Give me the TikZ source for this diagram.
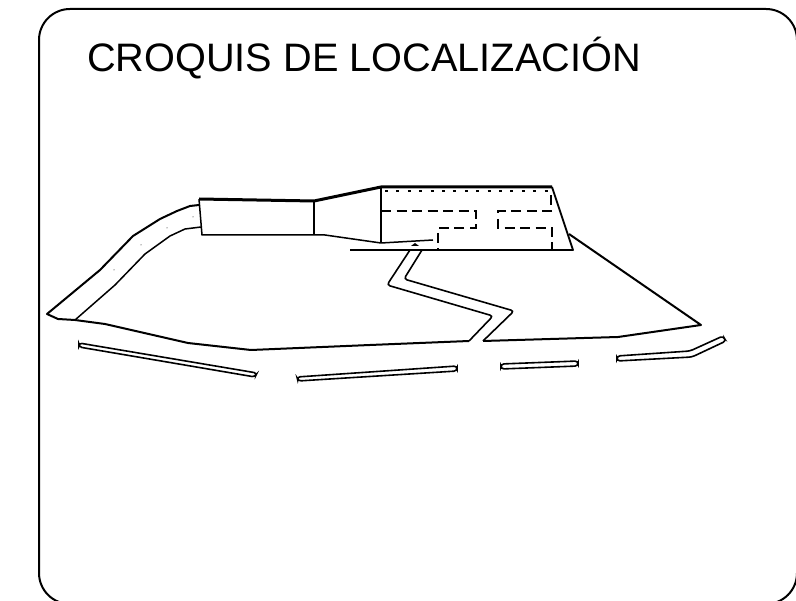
\documentclass[tikz,border=0pt]{standalone}
\usepackage{fontspec}
\setmainfont{Liberation Sans}
\tikzset{
  frameline/.style={line width=2pt,rounded corners=31pt},
  thick1/.style={line width=2pt,line join=round},
  thick2/.style={line width=3pt,line join=round},
  thin1/.style={line width=1.5pt,line join=round},
  road/.style={line width=1.6pt,rounded corners=3pt},
  dash1/.style={line width=2.2pt,dash pattern=on 10pt off 5.5pt},
  dash2/.style={line width=2.2pt,dash pattern=on 3pt off 8.4pt},
}
\begin{document}
\begin{tikzpicture}[x=1pt,y=-1pt]
\useasboundingbox (0,0) rectangle (796,601);
\draw[frameline] (39,604) -- (39,9) -- (797,9) -- (797,604) -- cycle;
\node[anchor=west,inner sep=0pt,font=\fontsize{39.7}{44}\selectfont] (title) at (87,58) {CROQUIS DE LOCALIZACIÓN};
% site outline
\draw[thick1] (199,205) -- (190,206) -- (177,211) -- (160,219) -- (133,236) -- (100,270) -- (47,314) -- (58,319) -- (75,320) -- (105,324) -- (188,343) -- (251,350) -- (370,345) -- (469,341);
\draw[thick1] (483,341) -- (618,337) -- (701,325) -- (569,234);
\draw[thin1] (75,320) -- (115,285) -- (145,254) -- (170,236) -- (185,229) -- (201,227);
% entrance block
\draw[thick2] (199,199) -- (314,201) -- (381,187) -- (552,187);
\draw[thin1] (199,199) -- (202,235) -- (314,235) -- (325,235) -- (381,243) -- (433,240);
\draw[line width=1.7pt] (314,201) -- (314,235);
\draw[line width=2pt] (381,187) -- (381,243);
\draw[line width=1.8pt,line join=round] (552,187) -- (573,250) -- (350,250);
% dashed rooms
\draw[dash2] (385,191) -- (552,191);
\draw[dash1] (381,211) -- (476,211) -- (476,228) -- (438,228) -- (438,250);
\draw[dash1] (552,211) -- (498,211) -- (498,228) -- (552,228) -- (552,250);
\draw[line width=2pt] (551,195) -- (551,205);
% small mark
\fill (411,246) -- (419,246) -- (415,243) -- cycle;
% driveway
\draw[road] (410,250) -- (387,285) -- (493,316) -- (469,341);
\draw[road] (422,250) -- (404,279) -- (514,311) -- (483,341);
% road strips
\draw[road] (79,343) -- (257,373) -- (255,377) -- (79,347) -- cycle;
\draw[road] (297,377) -- (457,366) -- (457,371) -- (298,381) -- cycle;
\draw[road] (501,364) -- (578,361) -- (578,366) -- (501,369) -- cycle;
\draw[road] (617,356) -- (690,351) -- (723,336) -- (726,341) -- (692,357) -- (617,361) -- cycle;
% specks
\foreach \p in {(114,270),(141,245),(167,228),(193,217)} \fill \p circle (0.5pt);
\end{tikzpicture}
\end{document}
